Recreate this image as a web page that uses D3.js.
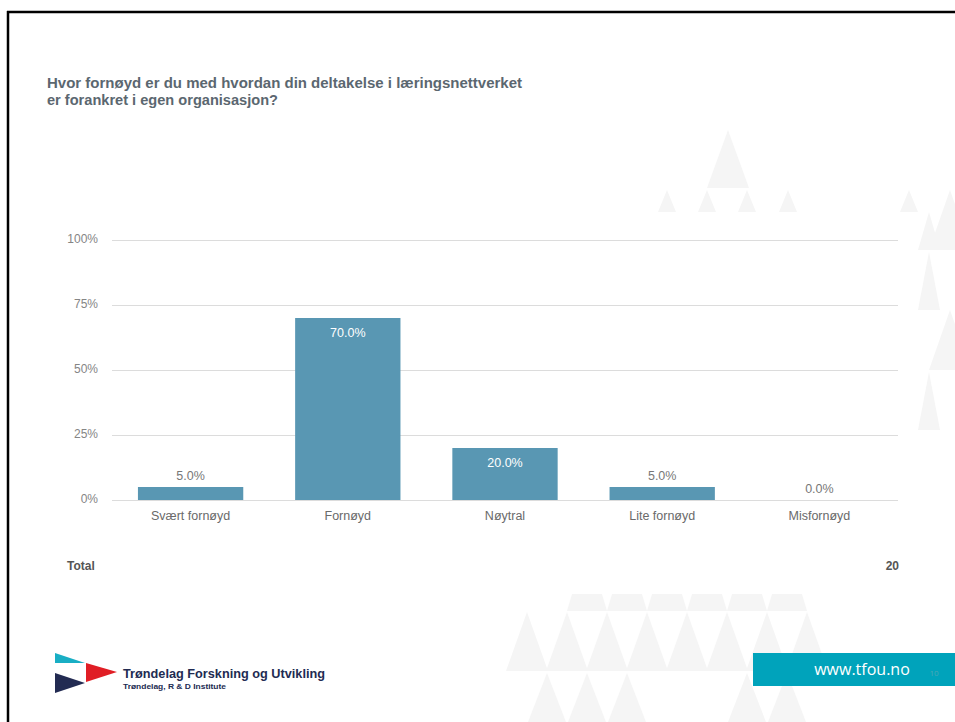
<!DOCTYPE html>
<html>
<head>
<meta charset="utf-8">
<script src="https://cdn.jsdelivr.net/npm/d3@7"></script>
<style>
  html, body { margin: 0; padding: 0; background: #fff; }
  svg { display: block; }
</style>
</head>
<body>
<svg id="chart" width="955" height="722"></svg>
<script>
// ---- data ----
const categories = ["Svært fornøyd", "Fornøyd", "Nøytral", "Lite fornøyd", "Misfornøyd"];
const values = [5.0, 70.0, 20.0, 5.0, 0.0];
const yTicks = [0, 25, 50, 75, 100];
const titleLines = ["Hvor fornøyd er du med hvordan din deltakelse i læringsnettverket", "er forankret i egen organisasjon?"];
const totalLabel = "Total";
const totalValue = 20;

const svg = d3.select("#chart");
const W = 955, H = 722;
const font = "'Liberation Sans', Arial, Helvetica, sans-serif";

// ---- decorative background triangles (slide template) ----
const deco = svg.append("g").attr("fill", "#f5f5f5");
function tri(cx, top, bottom, hw) {
  deco.append("path").attr("d", `M${cx},${top}L${cx + hw},${bottom}L${cx - hw},${bottom}Z`);
}
function trap(cx, top, bottom, hwTop, hwBot) {
  deco.append("path").attr("d", `M${cx - hwTop},${top}L${cx + hwTop},${top}L${cx + hwBot},${bottom}L${cx - hwBot},${bottom}Z`);
}
// top right cluster
tri(728, 130, 188, 21);
[667, 707, 747, 788].forEach(c => tri(c, 190, 212, 9));
tri(909, 190, 212, 9);
tri(950, 190, 250, 21);
trap(929, 212, 250, 0, 11);
tri(929, 252, 310, 11);
tri(950, 310, 370, 21);
tri(929, 372, 430, 11);
// bottom cluster
[587, 627, 667, 707, 747, 787].forEach(c => trap(c, 594, 611, 15, 20));
[527, 567, 607, 647, 687, 727, 767, 807].forEach(c => tri(c, 612, 671, 21));
[547, 587, 627, 747, 787].forEach(c => tri(c, 673, 722, 19));

// ---- frame ----
svg.append("line").attr("x1", 7).attr("x2", W).attr("y1", 12).attr("y2", 12)
  .attr("stroke", "#000").attr("stroke-width", 2.5);
svg.append("line").attr("x1", 8).attr("x2", 8).attr("y1", 11).attr("y2", H)
  .attr("stroke", "#000").attr("stroke-width", 2.5);

// ---- title ----
const titleWidths = [475, 231];
const title = svg.append("text").attr("x", 47).attr("y", 88)
  .attr("font-family", font).attr("font-weight", "bold").attr("font-size", 14.5)
  .attr("fill", "#5b6770");
titleLines.forEach((l, i) => title.append("tspan").attr("x", 47).attr("dy", i === 0 ? 0 : 16.5)
  .attr("textLength", titleWidths[i]).attr("lengthAdjust", "spacingAndGlyphs").text(l));

// ---- scales ----
const plot = { left: 112, right: 898, top: 240, bottom: 500 };
const x = d3.scaleBand().domain(categories).range([plot.left, plot.right])
  .paddingInner(0.33).paddingOuter(0.165);
const y = d3.scaleLinear().domain([0, 100]).range([plot.bottom, plot.top]);

// gridlines
const yAxis = d3.axisLeft(y).tickValues(yTicks).tickSize(-(plot.right - plot.left))
  .tickPadding(14).tickFormat(d => d + "%");
const gy = svg.append("g").attr("transform", `translate(${plot.left},0)`).call(yAxis);
gy.select(".domain").remove();
gy.selectAll(".tick line").attr("stroke", "#dcdcdc").attr("stroke-width", 1);
gy.selectAll(".tick text").attr("font-family", font).attr("font-size", 12).attr("fill", "#858585").attr("dy", "0.2em");

// bars
svg.append("g").selectAll("rect").data(values).join("rect")
  .attr("x", (d, i) => x(categories[i]))
  .attr("width", x.bandwidth())
  .attr("y", d => y(d))
  .attr("height", d => plot.bottom - y(d))
  .attr("fill", "#5997b3");

// value labels
svg.append("g").selectAll("text").data(values).join("text")
  .attr("x", (d, i) => x(categories[i]) + x.bandwidth() / 2)
  .attr("y", d => d >= 15 ? y(d) + 19 : y(d) - 7)
  .attr("text-anchor", "middle")
  .attr("font-family", font).attr("font-size", 12.5)
  .attr("fill", d => d >= 15 ? "#ffffff" : "#777777")
  .text(d => d.toFixed(1) + "%");

// x axis labels
const xAxis = d3.axisBottom(x).tickSize(0).tickPadding(11);
const gx = svg.append("g").attr("transform", `translate(0,${plot.bottom})`).call(xAxis);
gx.select(".domain").remove();
gx.selectAll(".tick text").attr("font-family", font).attr("font-size", 12.5).attr("fill", "#6a6a6a");

// total row
svg.append("text").attr("x", 67).attr("y", 570).attr("font-family", font)
  .attr("font-weight", "bold").attr("font-size", 12).attr("fill", "#555").text(totalLabel);
svg.append("text").attr("x", 899).attr("y", 570).attr("text-anchor", "end").attr("font-family", font)
  .attr("font-weight", "bold").attr("font-size", 12).attr("fill", "#555").text(totalValue);

// ---- logo ----
const logo = svg.append("g");
logo.append("path").attr("d", "M55,653L85,663L55,663Z").attr("fill", "#19aec4");
logo.append("path").attr("d", "M86,663L117,672L86,682Z").attr("fill", "#e01e25");
logo.append("path").attr("d", "M55,673L85,683L55,693Z").attr("fill", "#222b52");
logo.append("text").attr("x", 123).attr("y", 678).attr("font-family", font).attr("font-weight", "bold")
  .attr("font-size", 12.5).attr("fill", "#222b52").attr("textLength", 202).attr("lengthAdjust", "spacingAndGlyphs")
  .text("Trøndelag Forskning og Utvikling");
logo.append("text").attr("x", 123).attr("y", 689).attr("font-family", font).attr("font-weight", "bold")
  .attr("font-size", 7).attr("fill", "#222b52").attr("textLength", 103).attr("lengthAdjust", "spacingAndGlyphs")
  .text("Trøndelag, R & D Institute");

// ---- url box ----
svg.append("rect").attr("x", 753).attr("y", 653).attr("width", W - 753).attr("height", 33).attr("fill", "#00a3bb");
svg.append("text").attr("x", 862).attr("y", 675).attr("text-anchor", "middle")
  .attr("font-family", "'Open Sans', sans-serif").attr("font-size", 16).attr("fill", "#fff").text("www.tfou.no");
svg.append("text").attr("x", 934).attr("y", 676).attr("text-anchor", "middle")
  .attr("font-family", "'Open Sans', sans-serif").attr("font-size", 8).attr("fill", "#4fa6b4").text("10");
</script>
</body>
</html>
